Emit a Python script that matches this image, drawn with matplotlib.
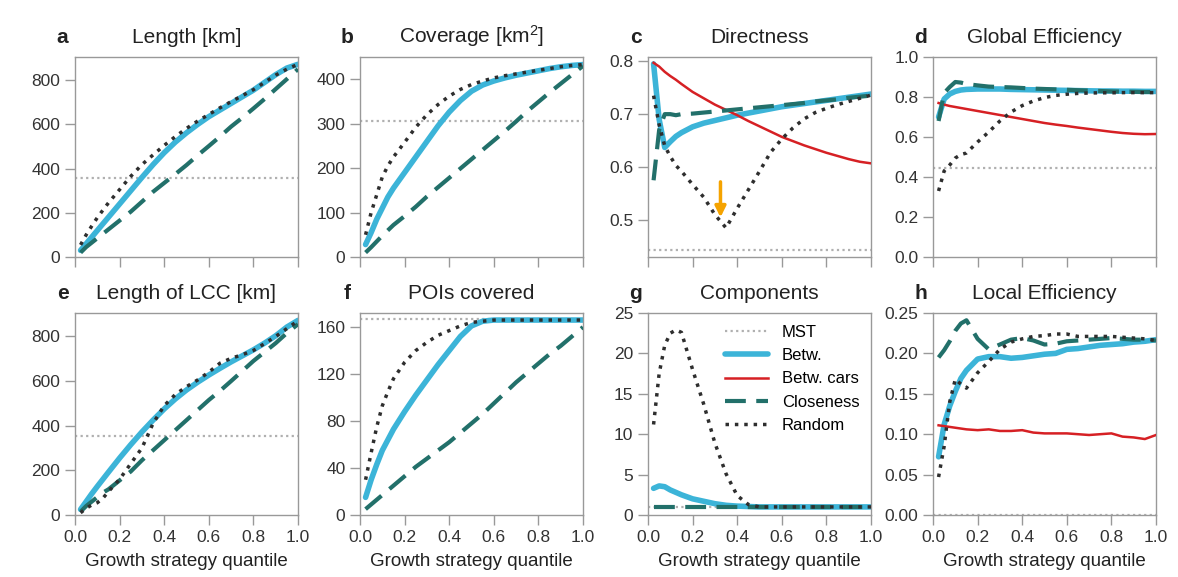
import matplotlib
matplotlib.use("Agg")
import matplotlib.pyplot as plt

plt.rcParams['font.family'] = ['Liberation Sans', 'DejaVu Sans']
plt.rcParams['mathtext.default'] = 'regular'

# growth strategy quantiles (shared x grid)
q = [0.025, 0.05, 0.075, 0.1, 0.125, 0.15, 0.2, 0.25, 0.3, 0.35, 0.4, 0.45,
     0.5, 0.55, 0.6, 0.65, 0.7, 0.75, 0.8, 0.85, 0.9, 0.95, 1.0]

# a: Length [km]
len_betw = [30, 60, 90, 120, 150, 180, 240, 300, 360, 418, 472, 520, 562, 600,
            635, 665, 695, 725, 755, 790, 825, 855, 872]
len_rand = [55, 100, 140, 178, 212, 245, 305, 365, 418, 462, 505, 545, 582, 615,
            645, 675, 703, 730, 757, 790, 823, 850, 872]
len_clos = [20, 45, 65, 85, 105, 125, 165, 205, 250, 295, 335, 375, 416, 460,
            502, 545, 590, 630, 672, 715, 760, 805, 850]
len_mst = 358

# b: Coverage [km2]
cov_betw = [28, 55, 85, 110, 135, 155, 190, 225, 260, 295, 326, 352, 373, 387,
            396, 403, 409, 414, 419, 424, 428, 431, 433]
cov_rand = [50, 100, 140, 180, 205, 225, 258, 292, 320, 343, 362, 377, 388, 396,
            403, 408, 412, 416, 420, 424, 428, 431, 433]
cov_clos = [10, 22, 35, 48, 60, 72, 92, 113, 136, 157, 178, 199, 220, 241,
            262, 283, 305, 328, 349, 370, 390, 410, 430]
cov_mst = 305

# c: Directness
dir_betw = [0.795, 0.69, 0.637, 0.648, 0.658, 0.665, 0.676, 0.683, 0.688, 0.693,
            0.698, 0.702, 0.706, 0.710, 0.714, 0.717, 0.720, 0.723, 0.726, 0.729,
            0.732, 0.735, 0.738]
dir_cars = [0.797, 0.79, 0.78, 0.772, 0.765, 0.757, 0.742, 0.73, 0.718, 0.708,
            0.698, 0.687, 0.677, 0.667, 0.657, 0.649, 0.641, 0.634, 0.627, 0.621,
            0.615, 0.61, 0.607]
dir_clos = [0.575, 0.67, 0.70, 0.70, 0.698, 0.70, 0.701, 0.703, 0.705, 0.707,
            0.709, 0.711, 0.713, 0.715, 0.717, 0.719, 0.721, 0.724, 0.726, 0.728,
            0.731, 0.733, 0.735]
dir_rand = [0.735, 0.68, 0.64, 0.62, 0.603, 0.592, 0.567, 0.543, 0.51, 0.485,
            0.522, 0.557, 0.592, 0.628, 0.653, 0.674, 0.691, 0.703, 0.711, 0.718,
            0.724, 0.73, 0.736]
dir_mst = 0.443
arrow_x, arrow_from, arrow_to = 0.325, 0.572, 0.505

# d: Global Efficiency
glob_betw = [0.70, 0.79, 0.815, 0.828, 0.835, 0.838, 0.84, 0.84, 0.84, 0.838,
             0.837, 0.836, 0.835, 0.834, 0.833, 0.832, 0.831, 0.83, 0.83, 0.829,
             0.829, 0.828, 0.828]
glob_cars = [0.77, 0.762, 0.755, 0.75, 0.745, 0.74, 0.73, 0.72, 0.71, 0.70,
             0.69, 0.68, 0.67, 0.662, 0.655, 0.647, 0.64, 0.633, 0.626, 0.62,
             0.616, 0.614, 0.615]
glob_clos = [0.68, 0.82, 0.85, 0.875, 0.872, 0.865, 0.858, 0.852, 0.85, 0.848,
             0.845, 0.842, 0.84, 0.838, 0.836, 0.834, 0.832, 0.83, 0.828, 0.827,
             0.826, 0.825, 0.825]
glob_rand = [0.33, 0.43, 0.46, 0.495, 0.512, 0.52, 0.575, 0.625, 0.68, 0.725,
             0.757, 0.78, 0.797, 0.808, 0.814, 0.818, 0.82, 0.821, 0.821, 0.822,
             0.822, 0.822, 0.822]
glob_mst = 0.445

# e: Length of LCC [km]
lcc_betw = [25, 60, 95, 128, 160, 192, 255, 315, 372, 425, 475, 520, 560, 595,
            627, 657, 686, 713, 740, 770, 803, 842, 872]
lcc_rand = [10, 30, 45, 55, 75, 105, 160, 230, 300, 410, 490, 540, 575, 605,
            640, 680, 702, 718, 737, 768, 800, 835, 870]
lcc_clos = [15, 40, 60, 80, 100, 115, 155, 195, 245, 290, 335, 380, 425, 470,
            515, 556, 600, 645, 690, 730, 770, 815, 855]
lcc_mst = 355

# f: POIs covered
poi_betw = [15, 30, 43, 55, 64, 73, 88, 102, 115, 128, 140, 152, 161, 165,
            166, 166, 166, 166, 166, 166, 166, 166, 166]
poi_rand = [30, 53, 75, 93, 105, 116, 130, 140, 147, 153, 157, 161, 164, 165,
            166, 166, 166, 166, 166, 166, 166, 166, 166]
poi_clos = [5, 9, 13, 17, 21, 25, 33, 41, 48, 55, 62, 70, 78, 86,
            95, 104, 113, 121, 129, 137, 144, 152, 160]
poi_mst = 167

# g: Components
comp_betw = [3.3, 3.6, 3.5, 3.1, 2.8, 2.5, 2.0, 1.7, 1.4, 1.2, 1.1, 1.05, 1.0,
             1, 1, 1, 1, 1, 1, 1, 1, 1, 1]
comp_rand = [11.2, 17.5, 21.0, 22.5, 22.9, 22.6, 18.0, 13.7, 8.9, 5.1, 2.4, 1.3,
             1.0, 1, 1, 1, 1, 1, 1, 1, 1, 1, 1]
comp_clos = [1] * len(q)
comp_mst = 1

# h: Local Efficiency
loc_betw = [0.072, 0.112, 0.135, 0.153, 0.169, 0.179, 0.193, 0.196, 0.196, 0.194,
            0.195, 0.197, 0.199, 0.200, 0.205, 0.206, 0.208, 0.21, 0.211, 0.212,
            0.214, 0.215, 0.217]
loc_cars = [0.111, 0.11, 0.109, 0.108, 0.107, 0.106, 0.105, 0.106, 0.104, 0.104,
            0.105, 0.102, 0.101, 0.101, 0.101, 0.1, 0.099, 0.1, 0.101, 0.097,
            0.096, 0.094, 0.099]
loc_clos = [0.195, 0.204, 0.215, 0.228, 0.237, 0.241, 0.218, 0.205, 0.211, 0.217,
            0.219, 0.216, 0.211, 0.212, 0.215, 0.216, 0.217, 0.218, 0.219, 0.218,
            0.217, 0.217, 0.216]
loc_rand = [0.047, 0.085, 0.14, 0.168, 0.162, 0.157, 0.176, 0.19, 0.205, 0.214,
            0.218, 0.221, 0.222, 0.224, 0.224, 0.221, 0.221, 0.221, 0.221, 0.22,
            0.219, 0.218, 0.216]
loc_mst = 0.0

C_BETW = '#3cb4d8'
C_CARS = '#d62024'
C_CLOS = '#22706a'
C_RAND = '#2e2e2e'
C_MST = '#b0b0b0'

panels = [
    ('a', 'Length [km]', len_mst, len_betw, None, len_clos, len_rand,
     (0, 905), [0, 200, 400, 600, 800], '{:.0f}'),
    ('b', 'Coverage [km$^2$]', cov_mst, cov_betw, None, cov_clos, cov_rand,
     (0, 450), [0, 100, 200, 300, 400], '{:.0f}'),
    ('c', 'Directness', dir_mst, dir_betw, dir_cars, dir_clos, dir_rand,
     (0.43, 0.808), [0.5, 0.6, 0.7, 0.8], '{:.1f}'),
    ('d', 'Global Efficiency', glob_mst, glob_betw, glob_cars, glob_clos, glob_rand,
     (0, 1.0), [0, 0.2, 0.4, 0.6, 0.8, 1.0], '{:.1f}'),
    ('e', 'Length of LCC [km]', lcc_mst, lcc_betw, None, lcc_clos, lcc_rand,
     (0, 905), [0, 200, 400, 600, 800], '{:.0f}'),
    ('f', 'POIs covered', poi_mst, poi_betw, None, poi_clos, poi_rand,
     (0, 172), [0, 40, 80, 120, 160], '{:.0f}'),
    ('g', 'Components', comp_mst, comp_betw, None, comp_clos, comp_rand,
     (0, 25), [0, 5, 10, 15, 20, 25], '{:.0f}'),
    ('h', 'Local Efficiency', loc_mst, loc_betw, loc_cars, loc_clos, loc_rand,
     (0, 0.25), [0, 0.05, 0.10, 0.15, 0.20, 0.25], '{:.2f}'),
]

fig = plt.figure(figsize=(11.78, 5.77), dpi=100)
lefts = [75, 360, 648, 933]
rows = [(57, 257), (313, 515)]
W, H = 1178, 577

axes = []
for i, (letter, title, mst, betw, cars, clos, rand, ylim, yt, fmt) in enumerate(panels):
    r, c = divmod(i, 4)
    top, bot = rows[r]
    ax = fig.add_axes([lefts[c] / W, 1 - bot / H, 223 / W, (bot - top) / H])
    axes.append(ax)
    ax.axhline(mst, color=C_MST, lw=1.6, ls=(0, (1, 1.5)), label='MST', zorder=1)
    ax.plot(q, betw, color=C_BETW, lw=4, solid_capstyle='round', label='Betw.', zorder=2)
    if cars is not None:
        ax.plot(q, cars, color=C_CARS, lw=1.8, label='Betw. cars', zorder=3)
    else:
        # legend proxy only (hidden under other lines in the original)
        ax.plot([], [], color=C_CARS, lw=1.8, label='Betw. cars')
    ax.plot(q, clos, color=C_CLOS, lw=3, ls=(0, (5, 2.5)), label='Closeness', zorder=4)
    ax.plot(q, rand, color=C_RAND, lw=2.5, ls=(0, (1, 1.7)), label='Random', zorder=5)
    ax.set_xlim(0, 1)
    ax.set_ylim(*ylim)
    ax.set_yticks(yt)
    ax.set_yticklabels([fmt.format(v) for v in yt])
    ax.set_xticks([0, 0.2, 0.4, 0.6, 0.8, 1.0])
    if r == 1:
        ax.set_xticklabels(['0.0', '0.2', '0.4', '0.6', '0.8', '1.0'])
        ax.set_xlabel('Growth strategy quantile', fontsize=13.5, color='#222222', labelpad=6)
    else:
        ax.set_xticklabels([])
    for sp in ax.spines.values():
        sp.set_color('#999999')
        sp.set_linewidth(1)
    ax.tick_params(direction='out', length=7, width=1, color='#999999',
                   labelsize=12.5, labelcolor='#333333')
    ax.set_title(title, fontsize=15, pad=10, color='#222222')
    ax.annotate(letter, xy=(0, 1), xycoords='axes fraction', xytext=(-9, 10),
                textcoords='offset points', ha='center', va='baseline',
                fontsize=15, fontweight='bold', color='#222222')

# orange arrow in Directness
axes[2].annotate('', xy=(arrow_x, arrow_to), xytext=(arrow_x, arrow_from),
                 arrowprops=dict(arrowstyle='-|>', color='#f5a300', lw=2.5,
                                 mutation_scale=16, shrinkA=0, shrinkB=0), zorder=6)

# legend in Components panel
axes[6].legend(loc='upper right', fontsize=12, frameon=True, facecolor='white',
               edgecolor='none', framealpha=0.9, handlelength=2.6,
               borderaxespad=0.3)

fig.savefig('out.png', dpi=100)
